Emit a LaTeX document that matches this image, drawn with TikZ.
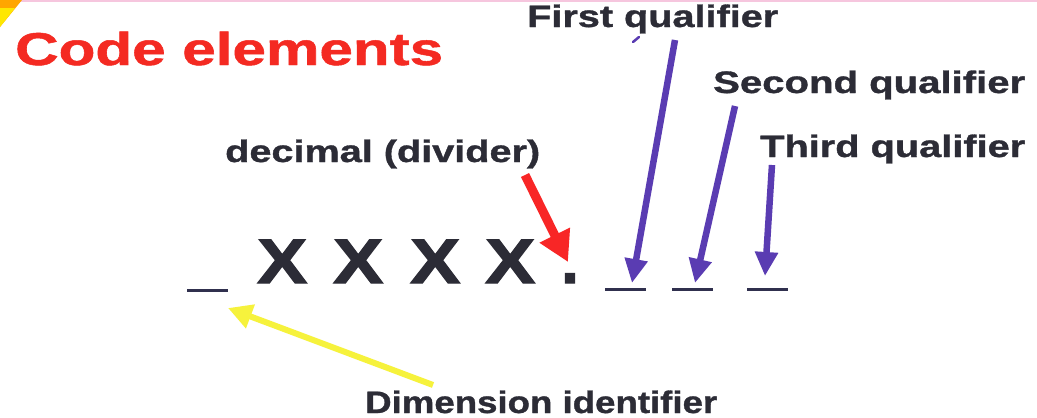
\documentclass[tikz,border=0pt]{standalone}
\usepackage{fontspec}
\setmainfont{Liberation Sans}
\newfontfamily\heavyfont[FakeBold=1.0]{Liberation Sans}
\newfontfamily\heavierfont[FakeBold=2.0]{Liberation Sans}
\usetikzlibrary{arrows.meta}
\definecolor{txt}{HTML}{2C2C36}
\definecolor{titlered}{HTML}{F42A22}
\definecolor{blueA}{HTML}{5A3CB2}
\definecolor{redA}{HTML}{F82626}
\definecolor{yellowA}{HTML}{F6F23C}
\definecolor{uline}{HTML}{30304E}
\definecolor{pinkline}{HTML}{F6C6DE}
\begin{document}
\begin{tikzpicture}[x=1pt,y=-1pt,
  lbl/.style={anchor=base west, inner sep=0pt, text=txt, font=\heavyfont\bfseries\fontsize{31}{36}\selectfont},
  bigx/.style={anchor=base west, inner sep=0pt, text=txt, font=\heavierfont\bfseries\fontsize{63}{70}\selectfont},
  ubar/.style={draw=none, fill=uline, inner sep=0pt, minimum width=41pt, minimum height=3pt},
  bluearrow/.style={draw=blueA, line width=6.5pt, -{Triangle[length=24pt,width=22pt]}},
  redarrow/.style={draw=redA, line width=9pt, -{Triangle[length=30pt,width=32pt]}},
  yellowarrow/.style={draw=yellowA, line width=6pt, -{Triangle[length=24pt,width=24pt]}}
]
\useasboundingbox (0,0) rectangle (1037,418);
\fill[white] (0,0) rectangle (1037,418);
\fill[pinkline] (0,0) rectangle (1037,2);
\fill[orange!70!yellow] (0,0) -- (22,0) -- (0,27) -- cycle;
\fill[yellow!90!orange] (0,8) -- (15,8) -- (0,27) -- cycle;

% title
\node[anchor=base west, inner sep=0pt, text=titlered, font=\heavyfont\bfseries\fontsize{46}{52}\selectfont] (title) at (15,65) {\resizebox{428pt}{\height}{Code elements}};

% labels
\node[lbl] (first) at (527,27) {\resizebox{251pt}{\height}{First qualifier}};
\node[lbl] (second) at (713,93) {\resizebox{312pt}{\height}{Second qualifier}};
\node[lbl] (third) at (760,157) {\resizebox{265pt}{\height}{Third qualifier}};
\node[lbl] (decimal) at (225,162) {\resizebox{315pt}{\height}{decimal (divider)}};
\node[lbl] (dim) at (365,413) {\resizebox{352pt}{\height}{Dimension identifier}};

% code row
\node[ubar] (u1) at (207.5,290) {};
\node[bigx] (x1) at (257,283) {\scalebox{1.19}[1]{X}};
\node[bigx] (x2) at (333,283) {\scalebox{1.19}[1]{X}};
\node[bigx] (x3) at (410,283) {\scalebox{1.19}[1]{X}};
\node[bigx] (x4) at (485,283) {\scalebox{1.19}[1]{X}};
\node[bigx] (dot) at (561,283) {.};
\node[ubar] (u2) at (625,289) {};
\node[ubar] (u3) at (692,289) {};
\node[ubar] (u4) at (767,289) {};

% arrow ends
\coordinate (t1) at (675,40);
\coordinate (p1) at (632,283);
\coordinate (t2) at (735,106);
\coordinate (p2) at (695,283);
\coordinate (t3) at (772,165);
\coordinate (p3) at (765,276);
\coordinate (tr) at (525,175);
\coordinate (pr) at (568,262);
\coordinate (ty) at (433,385);
\coordinate (py) at (228,308);

\draw[bluearrow] (t1) -- (p1);
\draw[bluearrow] (t2) -- (p2);
\draw[bluearrow] (t3) -- (p3);
\draw[redarrow] (tr) -- (pr);
\draw[yellowarrow] (ty) -- (py);

% small blue mark below "First qualifier"
\draw[blueA, line width=2.5pt, line cap=round] (633,42) -- (639,37);
\end{tikzpicture}
\end{document}
